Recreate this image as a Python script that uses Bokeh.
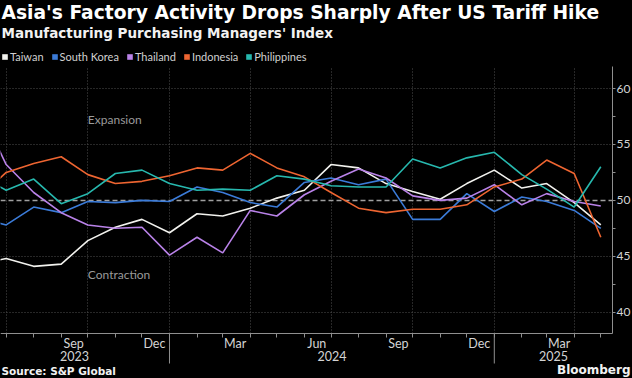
import pandas as pd
from bokeh.plotting import figure
from bokeh.models import (Range1d, FixedTicker, DatetimeTickFormatter, Label, Legend,
                          LegendItem, ColumnDataSource, Grid)
from bokeh.embed import file_html
from bokeh.resources import INLINE

# ---------------- data (manufacturing PMI, monthly) ----------------
months = pd.date_range("2023-05-01", "2025-04-01", freq="MS")
taiwan = [44.3, 44.8, 44.1, 44.3, 46.4, 47.6, 48.3, 47.1, 48.8, 48.6, 49.3, 50.2,
          50.9, 53.2, 52.9, 51.5, 50.8, 50.1, 51.5, 52.7, 51.1, 51.5, 49.8, 47.8]
south_korea = [48.4, 47.8, 49.4, 48.9, 49.9, 49.8, 50.0, 49.9, 51.2, 50.7, 49.8, 49.4,
               51.6, 52.0, 51.4, 51.9, 48.3, 48.3, 50.6, 49.0, 50.3, 49.9, 49.1, 47.5]
thailand = [58.2, 53.2, 50.7, 48.9, 47.8, 47.5, 47.6, 45.1, 46.7, 45.3, 49.1, 48.6,
            50.5, 51.7, 52.8, 52.0, 50.4, 50.0, 50.2, 51.4, 49.6, 50.6, 49.9, 49.5]
indonesia = [50.3, 52.5, 53.3, 53.9, 52.3, 51.5, 51.7, 52.2, 52.9, 52.7, 54.2, 52.9,
             52.1, 50.7, 49.3, 48.9, 49.2, 49.2, 49.6, 51.2, 51.9, 53.6, 52.4, 46.7]
philippines = [52.2, 50.9, 51.9, 49.7, 50.6, 52.4, 52.7, 51.5, 50.9, 51.0, 50.9, 52.2,
               51.9, 51.3, 51.2, 51.2, 53.7, 52.9, 53.8, 54.3, 52.3, 51.0, 49.4, 53.0]

series_names = ["Taiwan", "South Korea", "Thailand", "Indonesia", "Philippines"]
series_values = [taiwan, south_korea, thailand, indonesia, philippines]
series_colors = ["#f2f2ee", "#3b7bd8", "#b982e8", "#ee6531", "#27b8ae"]

y_ticks = [40, 45, 50, 55, 60]
y_minor = [42.5, 47.5, 52.5, 57.5]
y_lo, y_hi = 38.1, 62.0                     # extent of the chart area
label_months = pd.date_range("2023-06-01", "2025-03-01", freq="3MS")   # Mar/Jun/Sep/Dec
year_bounds = pd.to_datetime(["2024-01-01", "2025-01-01"])
year_labels = ["2023", "2024", "2025"]

TITLE = "Asia's Factory Activity Drops Sharply After US Tariff Hike"
SUBTITLE = "Manufacturing Purchasing Managers' Index"
SOURCE = "Source: S&P Global"


def ms(ts):
    return pd.Timestamp(ts).timestamp() * 1000.0


# monthly values are plotted at the end of their month
x_dates = months + pd.offsets.MonthBegin(1)

x_start = pd.Timestamp("2023-06-24 14:00")
x_axis_end = pd.Timestamp("2025-05-14 05:00")   # where the value axis sits
x_view_end = pd.Timestamp("2025-06-05 17:00")   # right edge of the picture

W, H = 632, 378
p = figure(width=W, height=H, x_axis_type="datetime", y_axis_location="right",
           x_range=Range1d(ms(x_start), ms(x_view_end)), y_range=Range1d(34.07, 67.87),
           output_backend="svg", toolbar_location=None,
           min_border_left=0, min_border_right=0, min_border_top=0, min_border_bottom=0,
           background_fill_color="#000000", border_fill_color="#000000",
           outline_line_color=None)

GRID = "#4e4e4e"
AXIS = "#8f8f8f"
TICK_TXT = "#d4d4d4"
FONT = "Lato"
BOLD = "DejaVu Sans"

# ---------------- grids ----------------
quarter_bounds = pd.date_range("2023-07-01", "2025-04-01", freq="3MS")
p.xgrid.ticker = FixedTicker(ticks=[ms(d) for d in quarter_bounds])
p.xgrid.cross_bounds = (y_lo, y_hi)
p.ygrid.ticker = FixedTicker(ticks=[t for t in y_ticks if t != 50])
p.ygrid.cross_bounds = (ms(x_start), ms(x_axis_end))
for g in (p.xgrid, p.ygrid):
    g.grid_line_color = GRID
    g.grid_line_dash = "1 2"
    g.grid_line_width = 1

p.add_layout(Grid(dimension=1, ticker=FixedTicker(ticks=[50]),
                  cross_bounds=(ms(x_start), ms(x_axis_end)),
                  grid_line_color="#a0a0a0", grid_line_dash="5 3", grid_line_width=1.3))

# ---------------- x axis (drawn at the bottom of the chart area) ----------------
xa = p.xaxis[0]
xa.fixed_location = y_lo
xa.bounds = (ms(x_start), ms(x_axis_end))
minor_months = pd.date_range("2023-07-01", "2025-05-01", freq="MS")
xa.ticker = FixedTicker(ticks=[ms(d + pd.Timedelta(days=14)) for d in label_months],
                        minor_ticks=[ms(d) for d in minor_months])
fmt = "%b"
xa.formatter = DatetimeTickFormatter(days=fmt, months=fmt, years=fmt, hours=fmt,
                                     hourmin=fmt, minutes=fmt, minsec=fmt, seconds=fmt,
                                     milliseconds=fmt, microseconds=fmt)
xa.axis_line_color = AXIS
xa.major_tick_line_color = None
xa.major_tick_out = 0
xa.major_tick_in = 0
xa.minor_tick_line_color = AXIS
xa.minor_tick_out = 4
xa.minor_tick_in = 0
xa.major_label_standoff = -1
xa.major_label_text_color = TICK_TXT
xa.major_label_text_font = FONT
xa.major_label_text_font_size = "12.5px"

# year separators: long ticks under the axis at each new year
p.segment(x0=year_bounds, y0=[35.41] * len(year_bounds), x1=year_bounds,
          y1=[y_lo] * len(year_bounds), line_color=AXIS, line_width=1)

# ---------------- y axis (right edge of the chart area) ----------------
ya = p.yaxis[0]
ya.fixed_location = ms(x_axis_end)
ya.bounds = (y_lo, y_hi)
ya.ticker = FixedTicker(ticks=y_ticks, minor_ticks=y_minor)
ya.axis_line_color = AXIS
ya.major_tick_line_color = AXIS
ya.minor_tick_line_color = AXIS
ya.major_tick_out = 3
ya.major_tick_in = 0
ya.minor_tick_out = 3
ya.minor_tick_in = 0
ya.major_label_standoff = 1
ya.major_label_text_color = TICK_TXT
ya.major_label_text_font = FONT
ya.major_label_text_font_size = "12px"

# ---------------- lines ----------------
for vals, col in zip(series_values, series_colors):
    src = ColumnDataSource(dict(x=x_dates, y=vals))
    p.line("x", "y", source=src, line_color=col, line_width=1.6)

# ---------------- legend (square swatches; proxies hold no visible point) ----------------
items = []
for name, col in zip(series_names, series_colors):
    r = p.rect(x=[float("nan")], y=[float("nan")], width=1, height=1,
               fill_color=col, line_color=None)
    items.append(LegendItem(label=name, renderers=[r]))
legend = Legend(items=items, orientation="horizontal", location=(1, 315),
                glyph_width=7, glyph_height=7, label_standoff=2, spacing=7,
                padding=0, margin=0, label_height=7,
                label_text_font=FONT, label_text_font_size="11px",
                label_text_color="#d0d0d0", background_fill_alpha=0,
                border_line_alpha=0)
p.add_layout(legend, "center")

# ---------------- year labels ----------------
year_centers = [
    ms(pd.Timestamp("2023-06-01") + (year_bounds[0] - pd.Timestamp("2023-06-01")) / 2),
    ms(year_bounds[0] + (year_bounds[1] - year_bounds[0]) / 2),
    ms(year_bounds[1] + (x_axis_end - year_bounds[1]) / 2),
]
for txt, xc in zip(year_labels, year_centers):
    p.add_layout(Label(x=xc, y=H - 355, x_units="data", y_units="screen", text=txt,
                       text_align="center", text_baseline="middle",
                       text_font=FONT, text_font_size="12.5px", text_color=TICK_TXT))

# ---------------- region annotations ----------------
for txt, yv in (("Expansion", 57.2), ("Contraction", 43.35)):
    p.add_layout(Label(x=ms("2023-10-01"), y=yv, text=txt, text_align="left",
                       text_baseline="middle", text_font=FONT,
                       text_font_size="12px", text_color="#9a9a9a"))

# ---------------- titles and footer ----------------
p.add_layout(Label(x=1, y=H - 11.5, x_units="screen", y_units="screen", text=TITLE,
                   text_font=BOLD, text_font_style="bold", text_font_size="18.7px",
                   text_color="#ffffff", text_baseline="middle"))
p.add_layout(Label(x=1, y=H - 32, x_units="screen", y_units="screen", text=SUBTITLE,
                   text_font=BOLD, text_font_style="bold", text_font_size="13.5px",
                   text_color="#f2f2f2", text_baseline="middle"))
p.add_layout(Label(x=1, y=H - 370.5, x_units="screen", y_units="screen", text=SOURCE,
                   text_font=BOLD, text_font_style="bold", text_font_size="10.5px",
                   text_color="#f2f2f2", text_baseline="middle"))
p.add_layout(Label(x=630, y=H - 369.7, x_units="screen", y_units="screen", text="Bloomberg",
                   text_font=BOLD, text_font_style="bold", text_font_size="12px",
                   text_color="#f2f2f2", text_baseline="middle", text_align="right"))

TEMPLATE = """
{% block postamble %}
<style>html, body { margin: 0 !important; padding: 0 !important; background: #000000; overflow: hidden; }</style>
{% endblock %}
"""

open("out.html", "w").write(file_html(p, INLINE, template=TEMPLATE))
